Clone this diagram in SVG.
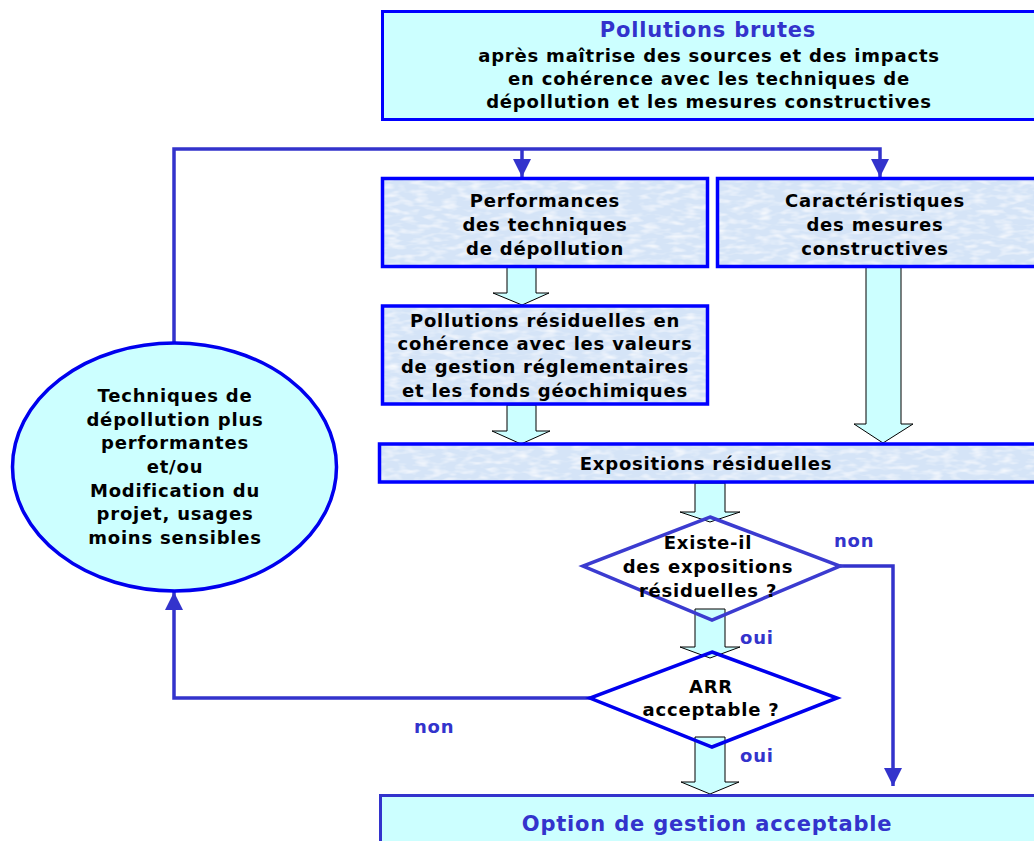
<svg xmlns="http://www.w3.org/2000/svg" width="1034" height="841" viewBox="0 0 1034 841">
<style>
.t{font-family:"DejaVu Sans","Verdana",sans-serif;font-weight:bold;font-size:18px;letter-spacing:0.8px;fill:#000;text-anchor:middle}
.b{font-family:"DejaVu Sans","Verdana",sans-serif;font-weight:bold;font-size:21px;letter-spacing:0.8px;fill:#3333cc;text-anchor:middle}
.l{font-family:"DejaVu Sans","Verdana",sans-serif;font-weight:bold;font-size:18px;letter-spacing:0.8px;fill:#3333cc}
.cyan{fill:#ccffff;stroke:#0000ff;stroke-width:3}
.tex{fill:#d6e5f8;filter:url(#mottle)}
.frame{fill:none;stroke:#0000ff;stroke-width:3.5}
.line{fill:none;stroke:#3333cc;stroke-width:3.5}
.blk{fill:#ccffff;stroke:#000;stroke-width:1}
</style>
<defs>
<filter id="mottle" x="0" y="0" width="100%" height="100%">
<feTurbulence type="fractalNoise" baseFrequency="0.07 0.2" numOctaves="2" seed="7" result="n"/>
<feColorMatrix in="n" type="matrix" values="0 0 0 0 1  0 0 0 0 1  0 0 0 0 1  0 0 0 1.6 -0.7" result="w"/>
<feFlood flood-color="#d5e4f7" result="bg"/>
<feComposite in="w" in2="bg" operator="over" result="m"/>
<feComposite in="m" in2="SourceGraphic" operator="in"/>
</filter>
<marker id="ah" markerUnits="userSpaceOnUse" markerWidth="18" markerHeight="18" viewBox="0 0 18 18" refX="18" refY="9" orient="auto">
<path d="M0,0 L18,9 L0,18 z" fill="#3333cc"/>
</marker>
</defs>

<g id="connectors">
<path class="line" d="M174,343 V149 H880 V177" marker-end="url(#ah)"/>
<path class="line" d="M522,149 V177" marker-end="url(#ah)"/>
<path class="line" d="M840,566 H893 V786" marker-end="url(#ah)"/>
<path class="line" d="M590,698 H174 V592" marker-end="url(#ah)"/>
<polygon class="blk" points="507,267 536,267 536,293 549,293 522,305 493,293 507,293"/>
<polygon class="blk" points="507,405 536,405 536,431 550,431 521,444 492,431 507,431"/>
<polygon class="blk" points="866,267 901,267 901,424 913,424 883,443 854,424 866,424"/>
<polygon class="blk" points="695,483 725,483 725,512 740,512 710,522 680,512 695,512"/>
<polygon class="blk" points="695,609 725,609 725,647 740,647 710,658 680,647 695,647"/>
<polygon class="blk" points="695,737 725,737 725,782 739,782 710,794 681,782 695,782"/>
</g>

<g id="pollutions-brutes">
<rect class="cyan" x="382.5" y="11.5" width="670" height="108"/>
<text class="b" x="708" y="37">Pollutions brutes</text>
<text class="t" x="709" y="62">après maîtrise des sources et des impacts</text>
<text class="t" x="709" y="85">en cohérence avec les techniques de</text>
<text class="t" x="709" y="108">dépollution et les mesures constructives</text>
</g>

<g id="performances">
<rect class="tex" x="382.5" y="178.5" width="325" height="88"/>
<rect class="frame" x="382.5" y="178.5" width="325" height="88"/>
<text class="t" x="545" y="207">Performances</text>
<text class="t" x="545" y="231">des techniques</text>
<text class="t" x="545" y="255">de dépollution</text>
</g>

<g id="caracteristiques">
<rect class="tex" x="717.5" y="178.5" width="330" height="88"/>
<rect class="frame" x="717.5" y="178.5" width="330" height="88"/>
<text class="t" x="875" y="207">Caractéristiques</text>
<text class="t" x="875" y="231">des mesures</text>
<text class="t" x="875" y="255">constructives</text>
</g>

<g id="pollutions-residuelles">
<rect class="tex" x="382.5" y="306" width="325" height="98"/>
<rect class="frame" x="382.5" y="306" width="325" height="98"/>
<text class="t" x="545" y="327">Pollutions résiduelles en</text>
<text class="t" x="545" y="350">cohérence avec les valeurs</text>
<text class="t" x="545" y="373">de gestion réglementaires</text>
<text class="t" x="545" y="397">et les fonds géochimiques</text>
</g>

<g id="expositions">
<rect class="tex" x="379.5" y="444" width="670" height="38"/>
<rect class="frame" x="379.5" y="444" width="670" height="38"/>
<text class="t" x="706" y="470">Expositions résiduelles</text>
</g>

<g id="techniques-ellipse">
<ellipse cx="174.5" cy="467" rx="162" ry="124" fill="#ccffff" stroke="#0000ee" stroke-width="3.5"/>
<text class="t" x="175" y="402">Techniques de</text>
<text class="t" x="175" y="426">dépollution plus</text>
<text class="t" x="175" y="449">performantes</text>
<text class="t" x="175" y="473">et/ou</text>
<text class="t" x="175" y="497">Modification du</text>
<text class="t" x="175" y="520">projet, usages</text>
<text class="t" x="175" y="544">moins sensibles</text>
</g>

<g id="existe-il">
<polygon points="710,517 840,566 712,620 583,566" fill="none" stroke="#3b3bd0" stroke-width="3.5"/>
<text class="t" x="708" y="549">Existe-il</text>
<text class="t" x="708" y="573">des expositions</text>
<text class="t" x="708" y="597">résiduelles ?</text>
</g>

<g id="arr-acceptable">
<polygon points="712,652 837,698 712,747 590,698" fill="none" stroke="#0000ee" stroke-width="3.5"/>
<text class="t" x="711" y="693">ARR</text>
<text class="t" x="711" y="716">acceptable ?</text>
</g>

<g id="labels">
<text class="l" x="834" y="547">non</text>
<text class="l" x="740" y="644">oui</text>
<text class="l" x="414" y="733">non</text>
<text class="l" x="740" y="762">oui</text>
</g>

<g id="option">
<rect x="380.5" y="795.5" width="670" height="60" fill="#ccffff" stroke="#3333cc" stroke-width="3"/>
<text class="b" x="707" y="831">Option de gestion acceptable</text>
</g>
</svg>
